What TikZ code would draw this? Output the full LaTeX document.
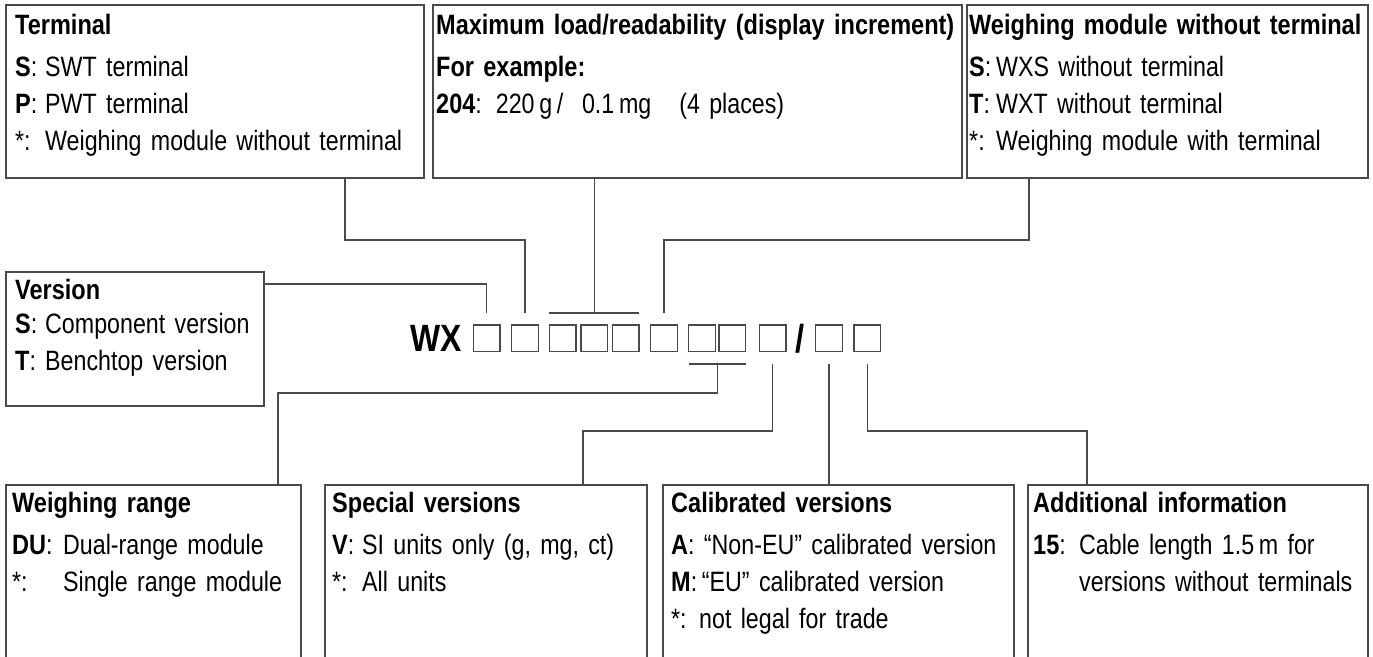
\documentclass[tikz,border=0pt]{standalone}
\usepackage{fontspec}
\setmainfont{Liberation Sans}[FakeStretch=0.83, BoldFeatures={FakeStretch=0.84}]
\usetikzlibrary{positioning,calc}
\definecolor{wxline}{HTML}{4A4A4A}
\newcommand{\keytab}[2][30pt]{\makebox[#1][l]{#2:}}

\begin{document}
\begin{tikzpicture}[x=1pt, y=-1pt, every node/.style={font=\fontsize{28}{37}\selectfont},
  box/.style={draw=wxline, line width=1.4pt, anchor=north west, inner sep=0pt, outer sep=0pt},
  txt/.style={anchor=base west, inner sep=0pt, text width=540pt, align=left},
  sq/.style={draw=wxline, line width=1.3pt, minimum size=26.7pt, inner sep=0pt, outer sep=0pt},
  con/.style={wxline, line width=1.3pt}]
\useasboundingbox (0,0) rectangle (1373,656);
\fill[white] (0,0) rectangle (1373,656);
\clip (0,0) rectangle (1373,656);
% top row
\node[box, minimum width=418pt, minimum height=173pt] (term) at (6,5) {};
\node[txt] (termtx) at ([xshift=9pt, yshift=-29pt]term.north west) {\textbf{Terminal}\\[5pt]
  \keytab{\textbf{S}}SWT terminal\\
  \keytab{\textbf{P}}PWT terminal\\
  \keytab{*}Weighing module without terminal};
\node[box, minimum width=529pt, minimum height=173pt] (load) at (433,5) {};
\node[txt] (loadtx) at ([xshift=3pt, yshift=-29pt]load.north west) {\textbf{Maximum load/readability (display increment)}\\[5pt]
  \textbf{For example:}\\
  \textbf{204}: 220\,g\,/\ \ 0.1\,mg\ \ \ (4 places)};
\node[box, minimum width=401pt, minimum height=173pt] (wmod) at (967,5) {};
\node[txt] (wmodtx) at ([xshift=2pt, yshift=-29pt]wmod.north west) {\textbf{Weighing module without terminal}\\[5pt]
  \keytab[27pt]{\textbf{S}}WXS without terminal\\
  \keytab[27pt]{\textbf{T}}WXT without terminal\\
  \keytab[27pt]{*}Weighing module with terminal};
% version
\node[box, minimum width=258pt, minimum height=134pt] (vers) at (6,272) {};
\node[txt] (verstx) at ([xshift=9pt, yshift=-27pt]vers.north west) {\textbf{Version}\\[-3pt]
  \keytab{\textbf{S}}Component version\\
  \keytab{\textbf{T}}Benchtop version};
% type code
\node[sq] (s1) at (486.7,338.3) {};
\node[sq, right=11.6pt of s1] (s2) {};
\node[sq, right=11pt of s2] (s3) {};
\node[sq, right=4.9pt of s3] (s4) {};
\node[sq, right=4.7pt of s4] (s5) {};
\node[sq, right=11.6pt of s5] (s6) {};
\node[sq, right=11.3pt of s6] (s7) {};
\node[sq, right=3.6pt of s7] (s8) {};
\node[sq, right=13.7pt of s8] (s9) {};
\node[right=9.5pt of s9, inner sep=0pt, outer sep=0pt, font=\fontsize{39}{39}\bfseries\selectfont] (sl) {/};
\node[sq, right=11pt of sl] (s10) {};
\node[sq, right=11.6pt of s10] (s11) {};
\node[left=11.6pt of s1, inner sep=0pt, outer sep=0pt, font=\fontsize{38}{40}\bfseries\selectfont] (wx) {WX};
% bottom row
\node[box, minimum width=295pt, minimum height=200pt] (range) at (6,485) {};
\node[txt] (rangetx) at ([xshift=6pt, yshift=-27pt]range.north west) {\textbf{Weighing range}\\[5pt]
  \keytab[51pt]{\textbf{DU}}Dual-range module\\
  \keytab[51pt]{*}Single range module};
\node[box, minimum width=322pt, minimum height=200pt] (spec) at (325,485) {};
\node[txt] (spectx) at ([xshift=7pt, yshift=-27pt]spec.north west) {\textbf{Special versions}\\[5pt]
  \keytab{\textbf{V}}SI units only (g, mg, ct)\\
  \keytab{*}All units};
\node[box, minimum width=351pt, minimum height=200pt] (calib) at (663,485) {};
\node[txt] (calibtx) at ([xshift=8pt, yshift=-27pt]calib.north west) {\textbf{Calibrated versions}\\[5pt]
  \textbf{A}: “Non-EU” calibrated version\\
  \textbf{M}:\,“EU” calibrated version\\
  \keytab[28pt]{*}not legal for trade};
\node[box, minimum width=340pt, minimum height=200pt] (addl) at (1028,485) {};
\node[txt] (addltx) at ([xshift=5pt, yshift=-27pt]addl.north west) {\textbf{Additional information}\\[5pt]
  \keytab[46pt]{\textbf{15}}Cable length 1.5\,m for\\
  \hspace*{46pt}versions without terminals};
% connectors above
\draw[con] ([yshift=-12pt]vers.north east) -| ([yshift=12pt]s1.north);
\draw[con] ([xshift=339pt]term.south west) -- ++(0,62) -| ([yshift=12pt]s2.north);
\draw[con] (load.south -| s4.north) -- ([yshift=12pt]s4.north);
\draw[con] ([yshift=12pt]s3.north west) -- ([yshift=12pt]s5.north east);
\draw[con] ([xshift=62pt]wmod.south west) -- ++(0,62) -| ([yshift=12pt]s6.north);
% connectors below
\coordinate (rb) at ($(s7.south east)!.5!(s8.south west)+(0,12.3)$);
\draw[con] ([yshift=-12.3pt]s7.south west) -- ([yshift=-12.3pt]s8.south east);
\draw[con] (rb) -- ++(0,29) -| ([xshift=272pt]range.north west);
\draw[con] ([yshift=-12.3pt]s9.south) -- ++(0,67) -| ([xshift=258pt]spec.north west);
\draw[con] ([yshift=-12.3pt]s10.south) -- (s10.south |- calib.north);
\draw[con] ([yshift=-12.3pt]s11.south) -- ++(0,67) -| ([xshift=59pt]addl.north west);
\end{tikzpicture}
\end{document}
